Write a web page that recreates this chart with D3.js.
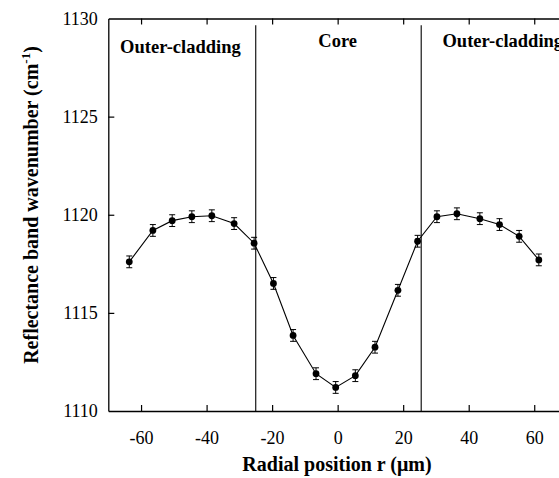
<!DOCTYPE html>
<html>
<head>
<meta charset="utf-8">
<script src="https://cdn.jsdelivr.net/npm/d3@7"></script>
<style>
  html, body { margin: 0; padding: 0; background: #fff; }
  svg { display: block; }
</style>
</head>
<body>
<svg id="chart" width="559" height="478"></svg>
<script>
// ---- data ----
const radius = [-63.6, -56.4, -50.5, -44.5, -38.4, -31.6, -25.5, -19.6, -13.6, -6.6, -0.6,
                5.4, 11.4, 18.4, 24.4, 30.3, 36.4, 43.4, 49.4, 55.4, 61.4];
const wavenumber = [1117.6, 1119.2, 1119.7, 1119.9, 1119.95, 1119.55, 1118.55, 1116.5, 1113.85, 1111.9, 1111.2,
                    1111.8, 1113.25, 1116.15, 1118.65, 1119.9, 1120.05, 1119.8, 1119.5, 1118.9, 1117.7];
const errorBar = [0.3, 0.3, 0.3, 0.3, 0.3, 0.3, 0.3, 0.3, 0.3, 0.3, 0.3,
                  0.3, 0.3, 0.3, 0.3, 0.3, 0.3, 0.3, 0.3, 0.3, 0.3];
const xTicks = [-60, -40, -20, 0, 20, 40, 60];
const yTicks = [1110, 1115, 1120, 1125, 1130];
const boundaries = [-25, 25.5];
const regionNames = ["Outer-cladding", "Core", "Outer-cladding"];
const regionCenters = [-48, 0, 32];

// ---- layout ----
const FONT = '"Liberation Serif"';
const svg = d3.select("#chart");
const mLeft = 108.3, mRight = 567, mTop = 18.5, mBottom = 411;
const x = d3.scaleLinear().domain([-70, 70]).range([mLeft, mRight]);
const y = d3.scaleLinear().domain([1110, 1130]).range([mBottom, mTop]);

const g = svg.append("g");

const axStyle = sel => {
  sel.attr("font-family", null).attr("font-size", null);
  sel.select(".domain").attr("stroke", "#000").attr("stroke-width", 1.3);
  sel.selectAll(".tick line").attr("stroke", "#000").attr("stroke-width", 1.2);
  sel.selectAll(".tick text").style("font-family", FONT).style("font-size", "18px").attr("fill", "#000");
};
const fmt = d => String(d);
const bottomAx = g.append("g").attr("transform", `translate(0,${mBottom})`)
  .call(d3.axisBottom(x).tickValues(xTicks).tickSizeInner(-6).tickSizeOuter(0).tickPadding(20).tickFormat(fmt));
bottomAx.call(axStyle);

const topAx = g.append("g").attr("transform", `translate(0,${mTop})`)
  .call(d3.axisTop(x).tickValues(xTicks).tickSizeInner(-6).tickSizeOuter(0).tickFormat(""));
topAx.call(axStyle);

const leftAx = g.append("g").attr("transform", `translate(${mLeft},0)`)
  .call(d3.axisLeft(y).tickValues(yTicks).tickSizeInner(-6).tickSizeOuter(0).tickPadding(10.5).tickFormat(fmt));
leftAx.call(axStyle);
leftAx.selectAll(".tick").filter(d => d === 1110 || d === 1130).select("line").remove();

// boundary lines
g.selectAll(".bound").data(boundaries).enter().append("line")
  .attr("x1", d => x(d)).attr("x2", d => x(d))
  .attr("y1", y(1129.65)).attr("y2", mBottom)
  .attr("stroke", "#000").attr("stroke-width", 1.1);

// region labels
g.selectAll(".region").data(regionNames).enter().append("text")
  .attr("x", (d, i) => x(regionCenters[i]))
  .attr("y", (d, i) => i === 0 ? 53 : 47)
  .attr("text-anchor", (d, i) => i === 2 ? "start" : "middle")
  .style("font-family", FONT).style("font-weight", "bold").style("font-size", "18.5px")
  .text(d => d);

// connecting line
const line = d3.line().x((d, i) => x(radius[i])).y(d => y(d));
g.append("path").datum(wavenumber).attr("d", line)
  .attr("fill", "none").attr("stroke", "#000").attr("stroke-width", 1.1);

// error bars
const eb = g.selectAll(".eb").data(wavenumber).enter().append("g");
eb.append("line")
  .attr("x1", (d, i) => x(radius[i])).attr("x2", (d, i) => x(radius[i]))
  .attr("y1", (d, i) => y(d - errorBar[i])).attr("y2", (d, i) => y(d + errorBar[i]))
  .attr("stroke", "#000").attr("stroke-width", 1);
[1, -1].forEach(s => {
  eb.append("line")
    .attr("x1", (d, i) => x(radius[i]) - 3).attr("x2", (d, i) => x(radius[i]) + 3)
    .attr("y1", (d, i) => y(d + s * errorBar[i])).attr("y2", (d, i) => y(d + s * errorBar[i]))
    .attr("stroke", "#000").attr("stroke-width", 1);
});

// markers
g.selectAll(".pt").data(wavenumber).enter().append("circle")
  .attr("cx", (d, i) => x(radius[i])).attr("cy", d => y(d)).attr("r", 3.4).attr("fill", "#000");

// axis titles
svg.append("text").attr("x", 337).attr("y", 471).attr("text-anchor", "middle")
  .style("font-family", FONT).style("font-weight", "bold").style("font-size", "20px")
  .text("Radial position r (\u03BCm)");

const yl = svg.append("text").attr("transform", "translate(38,205) rotate(-90)")
  .attr("text-anchor", "middle")
  .style("font-family", FONT).style("font-weight", "bold").style("font-size", "20px");
yl.append("tspan").text("Reflectance band wavenumber (cm");
yl.append("tspan").style("font-size", "13px").attr("dy", -8).text("-1");
yl.append("tspan").attr("dy", 8).text(")");
</script>
</body>
</html>
